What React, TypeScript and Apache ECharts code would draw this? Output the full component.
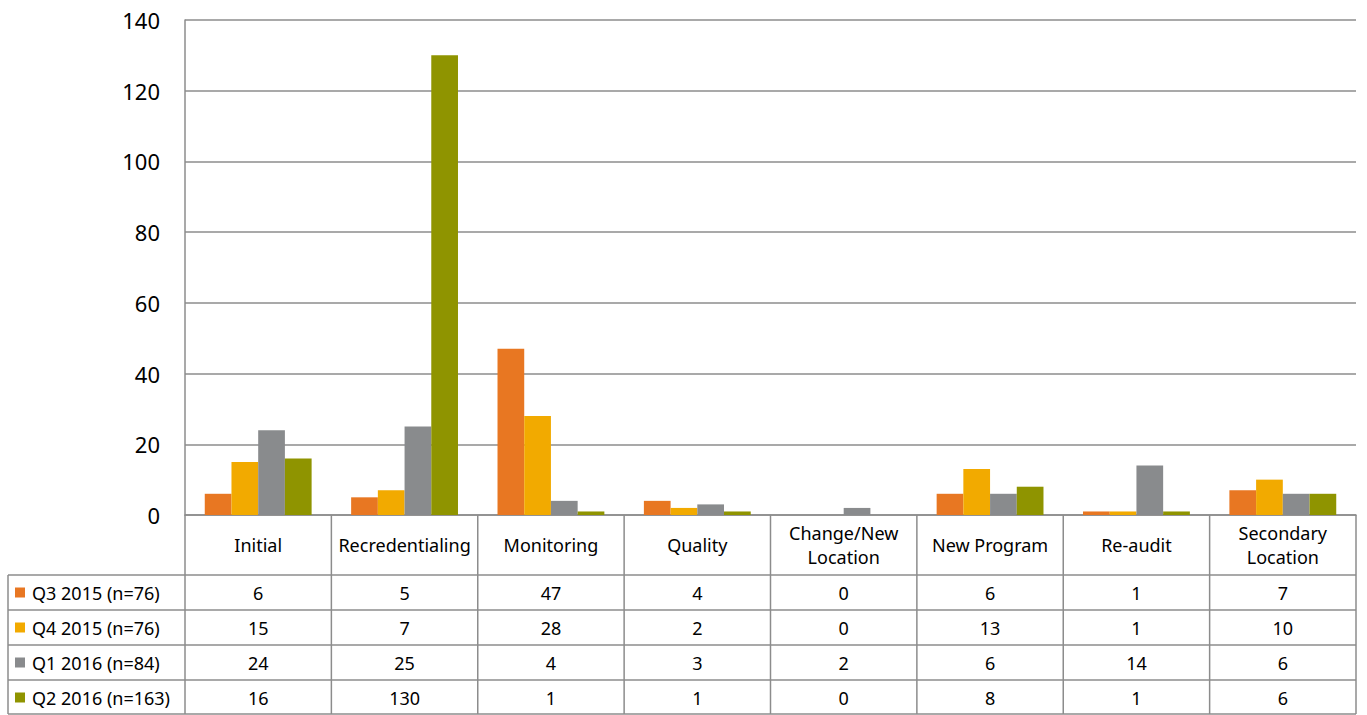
import React, { useEffect, useRef } from "react";
import * as echarts from "echarts";

const categories = ["Initial", "Recredentialing", "Monitoring", "Quality", "Change/New\nLocation", "New Program", "Re-audit", "Secondary\nLocation"];
const seriesNames = ["Q3 2015 (n=76)", "Q4 2015 (n=76)", "Q1 2016 (n=84)", "Q2 2016 (n=163)"];
const q3_2015 = [6, 5, 47, 4, 0, 6, 1, 7];
const q4_2015 = [15, 7, 28, 2, 0, 13, 1, 10];
const q1_2016 = [24, 25, 4, 3, 2, 6, 14, 6];
const q2_2016 = [16, 130, 1, 1, 0, 8, 1, 6];
const colors = ["#E87722", "#F2AA00", "#898B8D", "#8F9400"];

const W = 1367;
const H = 715;
const gridLeft = 185;
const gridRight = 1356;
const gridTop = 20;
const gridBottom = 515;
const headerBottom = 575;
const rowH = 35;
const tableLeft = 8;
const lineColor = "#8c8c8c";
const font = "'Noto Sans', 'Open Sans', sans-serif";
const tableFontSize = 18;

export default function App() {
  const ref = useRef<HTMLDivElement>(null);
  useEffect(() => {
    if (!ref.current) return;
    const chart = echarts.init(ref.current, null, { renderer: "svg" });
    const allData = [q3_2015, q4_2015, q1_2016, q2_2016];
    const catW = (gridRight - gridLeft) / categories.length;
    const graphics: any[] = [];
    const line = (x1: number, y1: number, x2: number, y2: number) =>
      graphics.push({ type: "line", shape: { x1, y1, x2, y2 }, style: { stroke: lineColor, lineWidth: 1.5 }, silent: true });
    for (let i = 0; i <= categories.length; i++) {
      const x = gridLeft + i * catW;
      line(x, gridBottom, x, H - 1);
    }
    line(tableLeft, headerBottom, tableLeft, H - 1);
    line(tableLeft, headerBottom, gridRight, headerBottom);
    for (let r = 1; r <= 4; r++) {
      const y = headerBottom + r * rowH;
      line(tableLeft, Math.min(y, H - 1), gridRight, Math.min(y, H - 1));
    }
    const txt = (x: number, y: number, text: string, align: string) => ({
      type: "text",
      x,
      y,
      style: { text, fontSize: tableFontSize, fontFamily: font, fill: "#000", align, verticalAlign: "middle", lineHeight: 24 },
      silent: true,
    });
    categories.forEach((c, i) => {
      graphics.push(txt(gridLeft + (i + 0.5) * catW, (gridBottom + headerBottom) / 2, c, "center"));
    });
    seriesNames.forEach((name, r) => {
      const yc = headerBottom + (r + 0.5) * rowH;
      graphics.push({ type: "rect", shape: { x: 15, y: yc - 5, width: 10, height: 10 }, style: { fill: colors[r] }, silent: true });
      graphics.push(txt(32, yc, name, "left"));
      allData[r].forEach((v, i) => {
        graphics.push(txt(gridLeft + (i + 0.5) * catW, yc, String(v), "center"));
      });
    });

    chart.setOption({
      animation: false,
      grid: { left: gridLeft, right: W - gridRight, top: gridTop, bottom: H - gridBottom, containLabel: false },
      xAxis: {
        type: "category",
        data: categories,
        axisLine: { show: true, lineStyle: { color: lineColor, width: 1.5 } },
        axisTick: { show: false },
        axisLabel: { show: false },
      },
      yAxis: {
        type: "value",
        min: 0,
        max: 140,
        interval: 20,
        axisLine: { show: true, lineStyle: { color: lineColor, width: 1.5 } },
        axisTick: { show: false },
        axisLabel: { fontSize: 22, color: "#000", fontFamily: font, margin: 25 },
        splitLine: { lineStyle: { color: lineColor, width: 1.5 } },
      },
      series: seriesNames.map((n, i) => ({
        name: n,
        type: "bar",
        data: allData[i],
        barGap: "0%",
        barCategoryGap: "27%",
        itemStyle: { color: colors[i] },
      })),
      graphic: graphics,
    });
    return () => chart.dispose();
  }, []);
  return <div ref={ref} style={{ position: "fixed", left: 0, top: 0, width: W, height: H, background: "#fff" }} />;
}
